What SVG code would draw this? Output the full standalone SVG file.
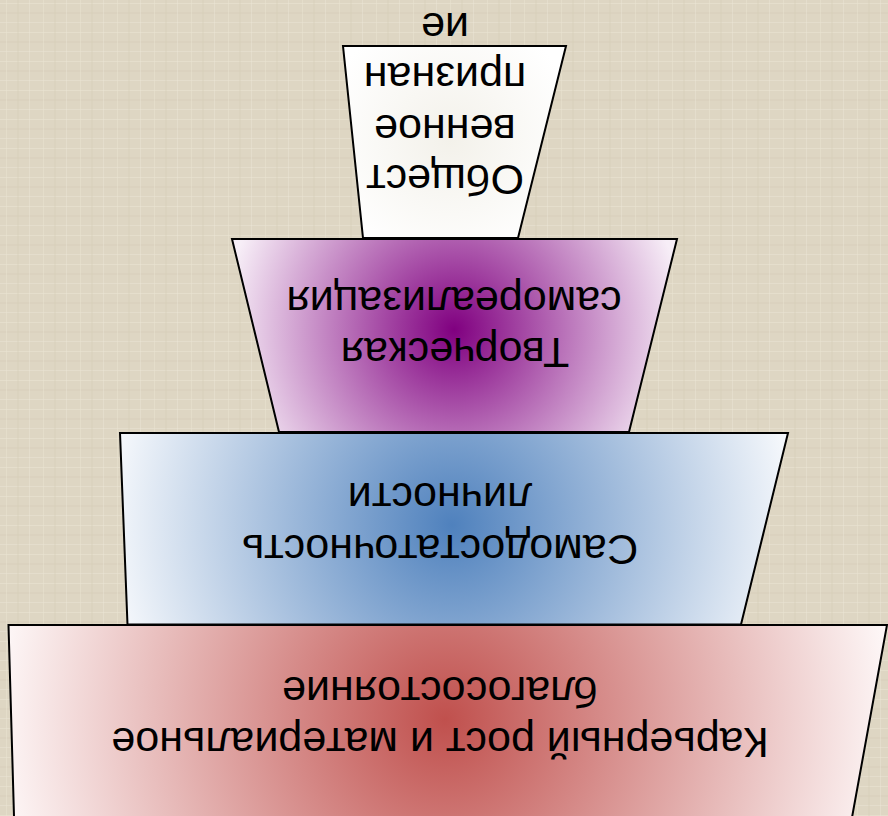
<svg xmlns="http://www.w3.org/2000/svg" width="888" height="816" viewBox="0 0 888 816">
  <style>
    .shape { stroke: #000; stroke-width: 2; stroke-linejoin: miter; }
    .lbl { font-family: "Liberation Sans", Arial, sans-serif; font-size: 43px; fill: #000; text-anchor: middle; }
  </style>
  <defs>
    <pattern id="linen" width="37" height="29" patternUnits="userSpaceOnUse">
      <rect width="37" height="29" fill="#ded6c3"/>
      <rect x="0" y="3" width="37" height="1" fill="#ebe5d5" opacity="0.5"/>
      <rect x="0" y="12" width="37" height="2" fill="#d4cbb6" opacity="0.3"/>
      <rect x="0" y="22" width="37" height="1" fill="#ece6d8" opacity="0.45"/>
      <rect x="6" y="0" width="1" height="29" fill="#eae3d2" opacity="0.5"/>
      <rect x="17" y="0" width="2" height="29" fill="#d6cdb8" opacity="0.3"/>
      <rect x="29" y="0" width="1" height="29" fill="#eee8da" opacity="0.4"/>
    </pattern>
    <radialGradient id="gWhite" gradientUnits="userSpaceOnUse" cx="450" cy="140" r="130">
      <stop offset="0" stop-color="#f3f1ea"/>
      <stop offset="1" stop-color="#ffffff"/>
    </radialGradient>
    <radialGradient id="gPurple" gradientUnits="userSpaceOnUse" cx="454" cy="330" r="230">
      <stop offset="0" stop-color="#800080"/>
      <stop offset="1" stop-color="#f7eef7"/>
    </radialGradient>
    <radialGradient id="gBlue" gradientUnits="userSpaceOnUse" cx="452" cy="525" r="340">
      <stop offset="0" stop-color="#4f81bd"/>
      <stop offset="1" stop-color="#f4f7fb"/>
    </radialGradient>
    <radialGradient id="gRed" gradientUnits="userSpaceOnUse" cx="445" cy="720" r="445">
      <stop offset="0" stop-color="#c0504d"/>
      <stop offset="1" stop-color="#fdf6f6"/>
    </radialGradient>
  </defs>

  <rect id="background" x="0" y="0" width="888" height="816" fill="url(#linen)"/>

  <g id="connectors"/>

  <g id="level-career">
    <polygon class="shape" fill="url(#gRed)" points="8.5,625 887,625 851,823 14.2,823"/>
    <text class="lbl" transform="translate(440,728) rotate(180)">Карьерный рост и материальное</text>
    <text class="lbl" transform="translate(440,677) rotate(180)">благосостояние</text>
  </g>

  <g id="level-selfsufficiency">
    <polygon class="shape" fill="url(#gBlue)" points="120,433 788,433 741,624.5 127.5,624.5"/>
    <text class="lbl" transform="translate(440,535) rotate(180)">Самодостаточность</text>
    <text class="lbl" transform="translate(440,483) rotate(180)">личности</text>
  </g>

  <g id="level-creative">
    <polygon class="shape" fill="url(#gPurple)" points="232,239 677,239 629,432 279,432"/>
    <text class="lbl" transform="translate(455,338) rotate(180)">Творческая</text>
    <text class="lbl" transform="translate(454,287) rotate(180)">самореализация</text>
  </g>

  <g id="level-recognition">
    <polygon class="shape" fill="url(#gWhite)" points="343,46 566,46 518,238 363,238"/>
    <text class="lbl" transform="translate(445,165) rotate(180)">Общест</text>
    <text class="lbl" transform="translate(445,115) rotate(180)">венное</text>
    <text class="lbl" transform="translate(445,63) rotate(180)">признан</text>
    <text class="lbl" transform="translate(445,13) rotate(180)">ие</text>
  </g>
</svg>
